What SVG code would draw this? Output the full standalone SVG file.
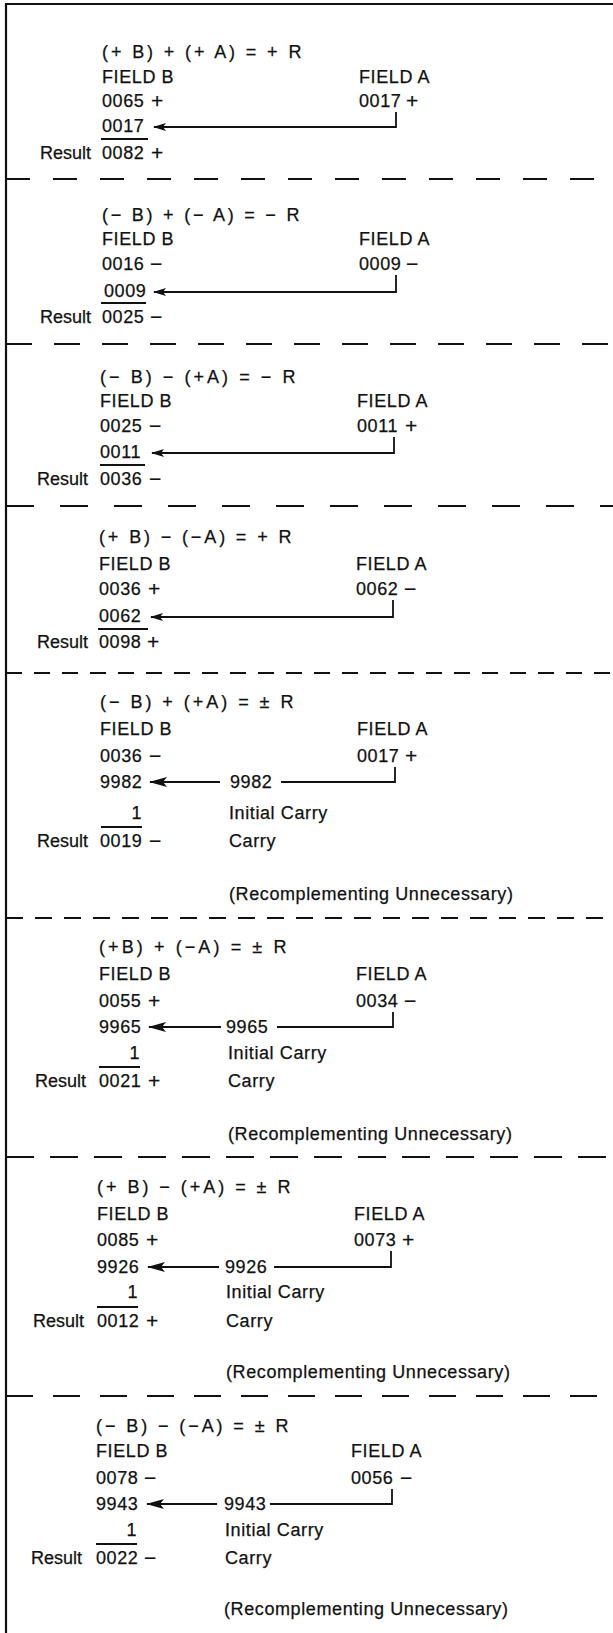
<svg xmlns="http://www.w3.org/2000/svg" width="613" height="1633" viewBox="0 0 613 1633">
<style>
text { font-family: "Liberation Sans", Arial, sans-serif; font-size: 18px; fill: #111; letter-spacing: 0.6px; stroke: #111; stroke-width: 0.25px; }
.res { letter-spacing: 0; }
.end { text-anchor: end; }
.sg { font-size: 21px; }
.ln { stroke: #111; stroke-width: 1.8; fill: none; }
.rule { stroke: #111; stroke-width: 2.2; }
.frame { stroke: #111; stroke-width: 2.2; fill: none; }
.dash { stroke: #111; stroke-width: 2; }
</style>
<defs>
<marker id="ah" markerUnits="userSpaceOnUse" viewBox="0 0 13 8" refX="12" refY="4" markerWidth="13" markerHeight="8" orient="auto">
<path d="M0,0 L13,4 L0,8 L3,4 z" fill="#111"/>
</marker>
<marker id="ahL" markerUnits="userSpaceOnUse" viewBox="0 0 18 10" refX="17" refY="5" markerWidth="18" markerHeight="10" orient="auto">
<path d="M0,0 L18,5 L0,10 L4,5 z" fill="#111"/>
</marker>
</defs>

<g id="frame">
<path class="frame" d="M6,1633 V4 H613"/>
<line class="dash" x1="6" y1="179" x2="613" y2="179" stroke-dasharray="24 23"/>
<line class="dash" x1="6" y1="344" x2="613" y2="344" stroke-dasharray="26 22"/>
<line class="dash" x1="6" y1="506" x2="613" y2="506" stroke-dasharray="28 26"/>
<line class="dash" x1="6" y1="673" x2="613" y2="673" stroke-dasharray="16 12"/>
<line class="dash" x1="6" y1="918" x2="613" y2="918" stroke-dasharray="17 12"/>
<line class="dash" x1="6" y1="1157" x2="613" y2="1157" stroke-dasharray="28 16"/>
<line class="dash" x1="6" y1="1396" x2="613" y2="1396" stroke-dasharray="27 20"/>
</g>

<g id="case1">
<text x="102" y="58" textLength="200" lengthAdjust="spacing">(+ B) + (+ A) = + R</text>
<text x="102" y="83">FIELD B</text>
<text x="359" y="83">FIELD A</text>
<text x="102" y="107">0065</text><text class="sg" x="151" y="108">+</text>
<text x="359" y="107">0017</text><text class="sg" x="406" y="108">+</text>
<text x="102" y="132">0017</text>
<line class="rule" x1="101" y1="139" x2="148" y2="139"/>
<text class="res" x="40" y="159">Result</text>
<text x="102" y="159">0082</text><text class="sg" x="151" y="160">+</text>
</g>

<g id="case2">
<text x="102" y="221" textLength="198" lengthAdjust="spacing">(− B) + (− A) = − R</text>
<text x="102" y="245">FIELD B</text>
<text x="359" y="245">FIELD A</text>
<text x="102" y="270">0016</text><text class="sg" x="150" y="271">−</text>
<text x="359" y="270">0009</text><text class="sg" x="406" y="271">−</text>
<text x="104" y="297">0009</text>
<line class="rule" x1="101" y1="303" x2="146" y2="303"/>
<text class="res" x="40" y="323">Result</text>
<text x="102" y="323">0025</text><text class="sg" x="150" y="324">−</text>
</g>

<g id="case3">
<text x="100" y="383" textLength="196" lengthAdjust="spacing">(− B) − (+A) = − R</text>
<text x="100" y="407">FIELD B</text>
<text x="357" y="407">FIELD A</text>
<text x="100" y="432">0025</text><text class="sg" x="149" y="433">−</text>
<text x="357" y="432">0011</text><text class="sg" x="405" y="433">+</text>
<text x="100" y="458">0011</text>
<line class="rule" x1="100" y1="465" x2="145" y2="465"/>
<text class="res" x="37" y="485">Result</text>
<text x="100" y="485">0036</text><text class="sg" x="149" y="486">−</text>
</g>

<g id="case4">
<text x="99" y="543" textLength="193" lengthAdjust="spacing">(+ B) − (−A) = + R</text>
<text x="99" y="570">FIELD B</text>
<text x="356" y="570">FIELD A</text>
<text x="99" y="595">0036</text><text class="sg" x="148" y="596">+</text>
<text x="356" y="595">0062</text><text class="sg" x="404" y="596">−</text>
<text x="99" y="622">0062</text>
<line class="rule" x1="98" y1="629" x2="148" y2="629"/>
<text class="res" x="37" y="648">Result</text>
<text x="99" y="648">0098</text><text class="sg" x="147" y="649">+</text>
</g>

<g id="case5">
<text x="100" y="708" textLength="194" lengthAdjust="spacing">(− B) + (+A) = ± R</text>
<text x="100" y="735">FIELD B</text>
<text x="357" y="735">FIELD A</text>
<text x="100" y="762">0036</text><text class="sg" x="149" y="763">−</text>
<text x="357" y="762">0017</text><text class="sg" x="405" y="763">+</text>
<text x="100" y="788">9982</text>
<text x="230" y="788">9982</text>
<text class="end" x="142" y="819">1</text>
<text x="229" y="819">Initial Carry</text>
<line class="rule" x1="101" y1="827" x2="142" y2="827"/>
<text class="res" x="37" y="847">Result</text>
<text x="100" y="847">0019</text><text class="sg" x="149" y="848">−</text>
<text x="229" y="847">Carry</text>
<text x="229" y="900">(Recomplementing Unnecessary)</text>
</g>

<g id="case6">
<text x="99" y="953" textLength="188" lengthAdjust="spacing">(+B) + (−A) = ± R</text>
<text x="99" y="980">FIELD B</text>
<text x="356" y="980">FIELD A</text>
<text x="99" y="1007">0055</text><text class="sg" x="148" y="1008">+</text>
<text x="356" y="1007">0034</text><text class="sg" x="404" y="1008">−</text>
<text x="99" y="1033">9965</text>
<text x="226" y="1033">9965</text>
<text class="end" x="140" y="1059">1</text>
<text x="228" y="1059">Initial Carry</text>
<line class="rule" x1="99" y1="1067" x2="140" y2="1067"/>
<text class="res" x="35" y="1087">Result</text>
<text x="99" y="1087">0021</text><text class="sg" x="148" y="1088">+</text>
<text x="228" y="1087">Carry</text>
<text x="228" y="1140">(Recomplementing Unnecessary)</text>
</g>

<g id="case7">
<text x="97" y="1193" textLength="194" lengthAdjust="spacing">(+ B) − (+A) = ± R</text>
<text x="97" y="1220">FIELD B</text>
<text x="354" y="1220">FIELD A</text>
<text x="97" y="1246">0085</text><text class="sg" x="146" y="1247">+</text>
<text x="354" y="1246">0073</text><text class="sg" x="402" y="1247">+</text>
<text x="97" y="1273">9926</text>
<text x="225" y="1273">9926</text>
<text class="end" x="138" y="1298">1</text>
<text x="226" y="1298">Initial Carry</text>
<line class="rule" x1="97" y1="1307" x2="138" y2="1307"/>
<text class="res" x="33" y="1327">Result</text>
<text x="97" y="1327">0012</text><text class="sg" x="146" y="1328">+</text>
<text x="226" y="1327">Carry</text>
<text x="226" y="1378">(Recomplementing Unnecessary)</text>
</g>

<g id="case8">
<text x="96" y="1432" textLength="193" lengthAdjust="spacing">(− B) − (−A) = ± R</text>
<text x="96" y="1457">FIELD B</text>
<text x="351" y="1457">FIELD A</text>
<text x="96" y="1484">0078</text><text class="sg" x="144" y="1485">−</text>
<text x="351" y="1484">0056</text><text class="sg" x="400" y="1485">−</text>
<text x="96" y="1510">9943</text>
<text x="224" y="1510">9943</text>
<text class="end" x="137" y="1536">1</text>
<text x="225" y="1536">Initial Carry</text>
<line class="rule" x1="96" y1="1544" x2="137" y2="1544"/>
<text class="res" x="31" y="1564">Result</text>
<text x="96" y="1564">0022</text><text class="sg" x="144" y="1565">−</text>
<text x="225" y="1564">Carry</text>
<text x="224" y="1615">(Recomplementing Unnecessary)</text>
</g>

<g id="connectors">
<path class="ln" d="M396,112 V127 H154" marker-end="url(#ah)"/>
<path class="ln" d="M396,275 V292 H154" marker-end="url(#ah)"/>
<path class="ln" d="M394,437 V453 H152" marker-end="url(#ah)"/>
<path class="ln" d="M393,600 V617 H151" marker-end="url(#ah)"/>
<path class="ln" d="M395,767 V782 H281"/>
<path class="ln" d="M220,782 H150" marker-end="url(#ahL)"/>
<path class="ln" d="M393,1012 V1027 H277"/>
<path class="ln" d="M221,1027 H149" marker-end="url(#ahL)"/>
<path class="ln" d="M391,1251 V1267 H274"/>
<path class="ln" d="M219,1267 H148" marker-end="url(#ahL)"/>
<path class="ln" d="M392,1489 V1504 H270"/>
<path class="ln" d="M217,1504 H147" marker-end="url(#ahL)"/>
</g>
</svg>
